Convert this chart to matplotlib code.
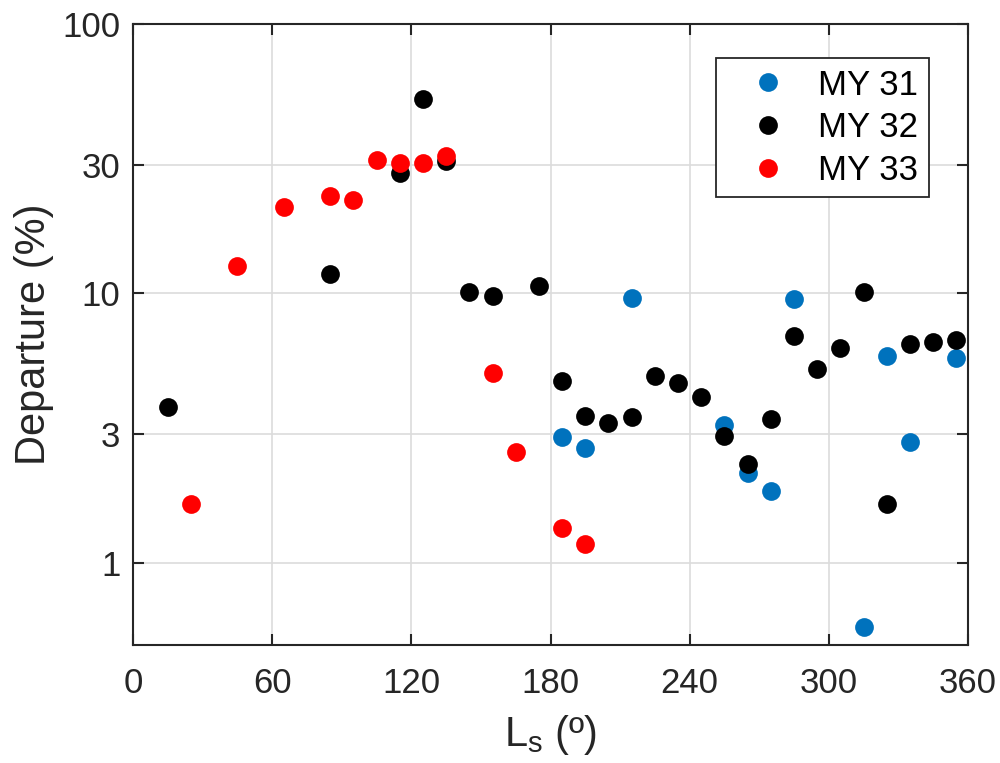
import matplotlib
matplotlib.use("Agg")
import matplotlib.pyplot as plt
from matplotlib.ticker import FixedLocator, NullLocator, FixedFormatter

plt.rcParams["font.family"] = ["Liberation Sans", "DejaVu Sans"]

# solar longitude bins (deg) and departure (%) per Mars year
ls_my31 = [185, 195, 215, 255, 265, 275, 285, 315, 325, 335, 355]
dep_my31 = [2.94, 2.67, 9.63, 3.26, 2.16, 1.85, 9.50, 0.577, 5.85, 2.81, 5.74]

ls_my32 = [15, 85, 115, 125, 135, 145, 155, 175, 185, 195, 205, 215, 225,
           235, 245, 255, 265, 275, 285, 295, 305, 315, 325, 335, 345, 355]
dep_my32 = [3.78, 11.8, 28.0, 52.8, 31.0, 10.1, 9.77, 10.67, 4.72, 3.51, 3.31,
            3.48, 4.93, 4.66, 4.13, 2.96, 2.32, 3.41, 6.98, 5.24, 6.28, 10.14,
            1.65, 6.47, 6.58, 6.71]

ls_my33 = [25, 45, 65, 85, 95, 105, 115, 125, 135, 155, 165, 185, 195]
dep_my33 = [1.65, 12.6, 20.9, 23.0, 22.3, 31.3, 30.5, 30.5, 32.4, 5.06, 2.58,
            1.345, 1.177]

x_ticks = [0, 60, 120, 180, 240, 300, 360]
y_ticks = [1, 3, 10, 30, 100]

fig = plt.figure(figsize=(10, 7.63), dpi=100)
ax = fig.add_axes([0.133, 0.1547, 0.835, 0.8138])

ms = 13.5
ax.plot(ls_my31, dep_my31, "o", color="#0072BD", ms=ms, mec="none", label="MY 31")
ax.plot(ls_my32, dep_my32, "o", color="black", ms=ms, mec="none", label="MY 32")
ax.plot(ls_my33, dep_my33, "o", color="#FF0000", ms=ms, mec="none", label="MY 33")

ax.set_yscale("log")
ax.set_xlim(0, 360)
ax.set_ylim(0.496, 100)
ax.xaxis.set_major_locator(FixedLocator(x_ticks))
ax.yaxis.set_major_locator(FixedLocator(y_ticks))
ax.yaxis.set_major_formatter(FixedFormatter([str(t) for t in y_ticks]))
ax.yaxis.set_minor_locator(NullLocator())

ax.grid(True, color="#dcdcdc", linewidth=1.2)
ax.set_axisbelow(True)
for s in ax.spines.values():
    s.set_color("#262626")
    s.set_linewidth(1.5)
ax.tick_params(direction="in", length=8, width=1.5, color="#262626",
               labelsize=25, labelcolor="#262626", top=True, right=True)
ax.tick_params(axis="x", pad=16)
ax.tick_params(axis="y", pad=9)

ax.set_xlabel(r"L$_\mathregular{s}$ (º)", fontsize=30, color="#262626", labelpad=9)
ax.set_ylabel("Departure (%)", fontsize=30, color="#262626", labelpad=6)

leg = ax.legend(loc="upper right", bbox_to_anchor=(0.953, 0.945), fontsize=25,
                fancybox=False, framealpha=1, edgecolor="#262626",
                handletextpad=0.25, borderpad=0.3, labelspacing=0.28,
                handlelength=2.4, borderaxespad=0)
leg.get_frame().set_linewidth(1.3)

fig.savefig("out.png", dpi=100)
